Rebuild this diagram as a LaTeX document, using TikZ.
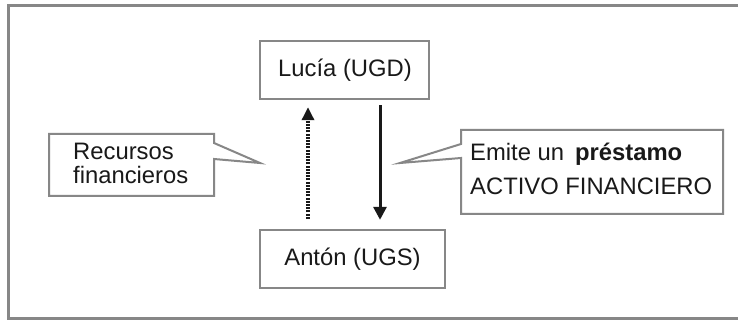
\documentclass[tikz,border=0pt]{standalone}
\usepackage{fontspec}
\setmainfont{Liberation Sans}
\usetikzlibrary{arrows.meta}
\definecolor{linegray}{RGB}{135,135,135}
\definecolor{ink}{RGB}{25,25,25}
\begin{document}
\begin{tikzpicture}[x=1pt,y=-1pt,
  every node/.style={font=\fontsize{23.8}{28}\selectfont, text=ink, inner sep=0pt},
  agent/.style={draw=linegray, line width=2pt, fill=white},
  bubble/.style={draw=linegray, line width=2pt, line join=miter, fill=white},
  label/.style={anchor=base west},
  flow/.style={line width=3pt, draw=ink, -{Triangle[width=13pt,length=13pt]}, shorten <=#1},
  money/.style={line width=3.2pt, draw=ink, dash pattern=on 2pt off 1.2pt, -{Triangle[width=12pt,length=13pt]}}
]
\useasboundingbox (0,0) rectangle (738,320);
\fill[white] (0,0) rectangle (738,320);

% surrounding frame, open on the right
\draw[linegray, line width=3pt] (738,5.5) -- (8,5.5) -- (8,318.5) -- (738,318.5);

% the two economic units
\draw[agent] (260,41) rectangle (429,99);
\node (lucia) at (345,70) [minimum width=169pt, minimum height=58pt] {Lucía (UGD)};
\draw[agent] (260,230) rectangle (445,288);
\node (anton) at (352.5,259) [minimum width=185pt, minimum height=58pt] {Antón (UGS)};

% column positions of the two flows
\coordinate (upx) at (308,0);
\coordinate (downx) at (380,0);

% funds go up, the loan comes down
\draw[money, shorten <=11pt, shorten >=8pt] (upx |- anton.north) -- (upx |- lucia.south);
\draw[flow=6pt, shorten >=10pt] (downx |- lucia.south) -- (downx |- anton.north);

% left speech bubble
\draw[bubble] (214,143) -- (214,134) -- (49,134) -- (49,196) -- (214,196) -- (214,159) -- (260,163) -- cycle;
\node[label] (rec1) at (73,160) {Recursos};
\node[label] (rec2) at (73,184) {financieros};

% right speech bubble
\draw[bubble] (461,144) -- (461,130) -- (723,130) -- (723,214) -- (461,214) -- (461,158) -- (400,163) -- cycle;
\node[label] (emi1) at (470,161) {Emite un\hspace{11pt}\textbf{préstamo}};
\node[label] (emi2) at (470,195) {ACTIVO FINANCIERO};
\end{tikzpicture}
\end{document}
